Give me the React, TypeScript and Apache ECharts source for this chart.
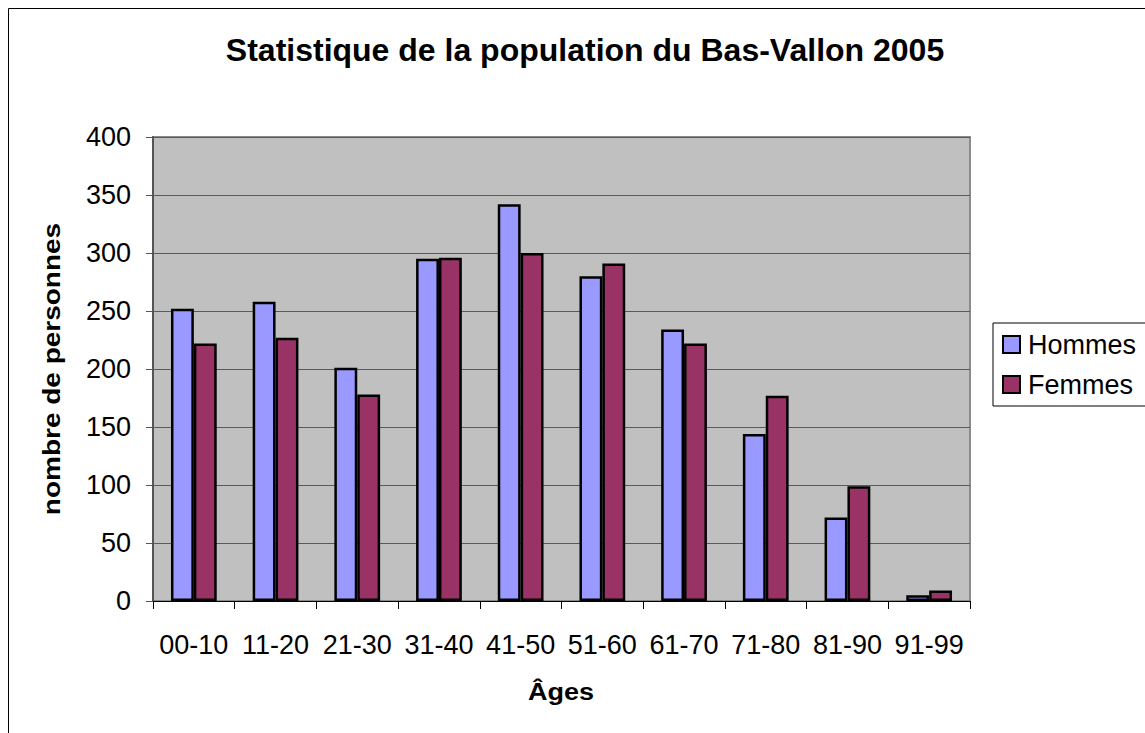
import React, { useEffect, useRef } from "react";
import * as echarts from "echarts";

const categories = ["00-10", "11-20", "21-30", "31-40", "41-50", "51-60", "61-70", "71-80", "81-90", "91-99"];
const hommes = [252, 258, 201, 295, 342, 280, 234, 144, 72, 5];
const femmes = [222, 227, 178, 296, 300, 291, 222, 177, 99, 9];
const yTicks = { min: 0, max: 400, interval: 50 };

const FONT = "'Liberation Sans', Arial, sans-serif";

export default function App() {
  const ref = useRef<HTMLDivElement>(null);
  useEffect(() => {
    if (!ref.current) return;
    const chart = echarts.init(ref.current, undefined, { renderer: "svg" });
    chart.setOption({
      animation: false,
      backgroundColor: "#ffffff",
      textStyle: { fontFamily: FONT },
      grid: {
        left: 153,
        top: 137,
        right: 175,
        bottom: 132,
        show: true,
        backgroundColor: "#c0c0c0",
        borderColor: "#8a8a8a",
        borderWidth: 2,
      },
      graphic: [
        {
          type: "rect",
          shape: { x: 8.5, y: 8.5, width: 1300, height: 900 },
          style: { fill: "none", stroke: "#000", lineWidth: 1 },
          silent: true,
          z: -10,
        },
        {
          type: "text",
          x: 585,
          y: 50,
          style: {
            text: "Statistique de la population du Bas-Vallon 2005",
            font: `bold 32px ${FONT}`,
            fill: "#000",
            align: "center",
            verticalAlign: "middle",
          },
        },
        {
          type: "text",
          x: 561,
          y: 691,
          scaleY: 0.92,
          style: {
            text: "Âges",
            font: `bold 27px ${FONT}`,
            fill: "#000",
            align: "center",
            verticalAlign: "middle",
          },
        },
        {
          type: "text",
          x: 52,
          y: 369,
          rotation: Math.PI / 2,
          scaleY: 0.85,
          style: {
            text: "nombre de personnes",
            font: `bold 28px ${FONT}`,
            fill: "#000",
            align: "center",
            verticalAlign: "middle",
          },
        },
      ],
      legend: {
        orient: "vertical",
        left: 993,
        top: 323,
        padding: [8, 20, 8, 9],
        itemWidth: 17,
        itemHeight: 17,
        itemGap: 13,
        borderColor: "#000",
        borderWidth: 1,
        backgroundColor: "#ffffff",
        icon: "rect",
        textStyle: { fontSize: 27, color: "#000", fontFamily: FONT, padding: [0, 0, 0, 3] },
        data: ["Hommes", "Femmes"],
      },
      xAxis: {
        type: "category",
        data: categories,
        axisLine: { lineStyle: { color: "#000", width: 1 } },
        axisTick: { show: true, length: 8, lineStyle: { color: "#000" } },
        axisLabel: { interval: 0, fontSize: 27, color: "#000", margin: 30, fontFamily: FONT },
        splitLine: { show: false },
      },
      yAxis: {
        type: "value",
        min: yTicks.min,
        max: yTicks.max,
        interval: yTicks.interval,
        axisLine: { show: true, lineStyle: { color: "#555", width: 2 } },
        axisTick: { show: true, length: 7, lineStyle: { color: "#555" } },
        axisLabel: { fontSize: 27, color: "#000", margin: 22, fontFamily: FONT },
        splitLine: { show: true, lineStyle: { color: "#5a5a5a", width: 1 } },
      },
      series: [
        {
          name: "Hommes",
          type: "bar",
          data: hommes,
          barGap: "0%",
          barCategoryGap: "44%",
          itemStyle: { color: "#9999ff", borderColor: "#000", borderWidth: 2.5 },
        },
        {
          name: "Femmes",
          type: "bar",
          data: femmes,
          itemStyle: { color: "#993366", borderColor: "#000", borderWidth: 2.5 },
        },
      ],
    });
    return () => chart.dispose();
  }, []);
  return (
    <div
      ref={ref}
      style={{ position: "absolute", left: 0, top: 0, width: 1145, height: 733 }}
    />
  );
}
